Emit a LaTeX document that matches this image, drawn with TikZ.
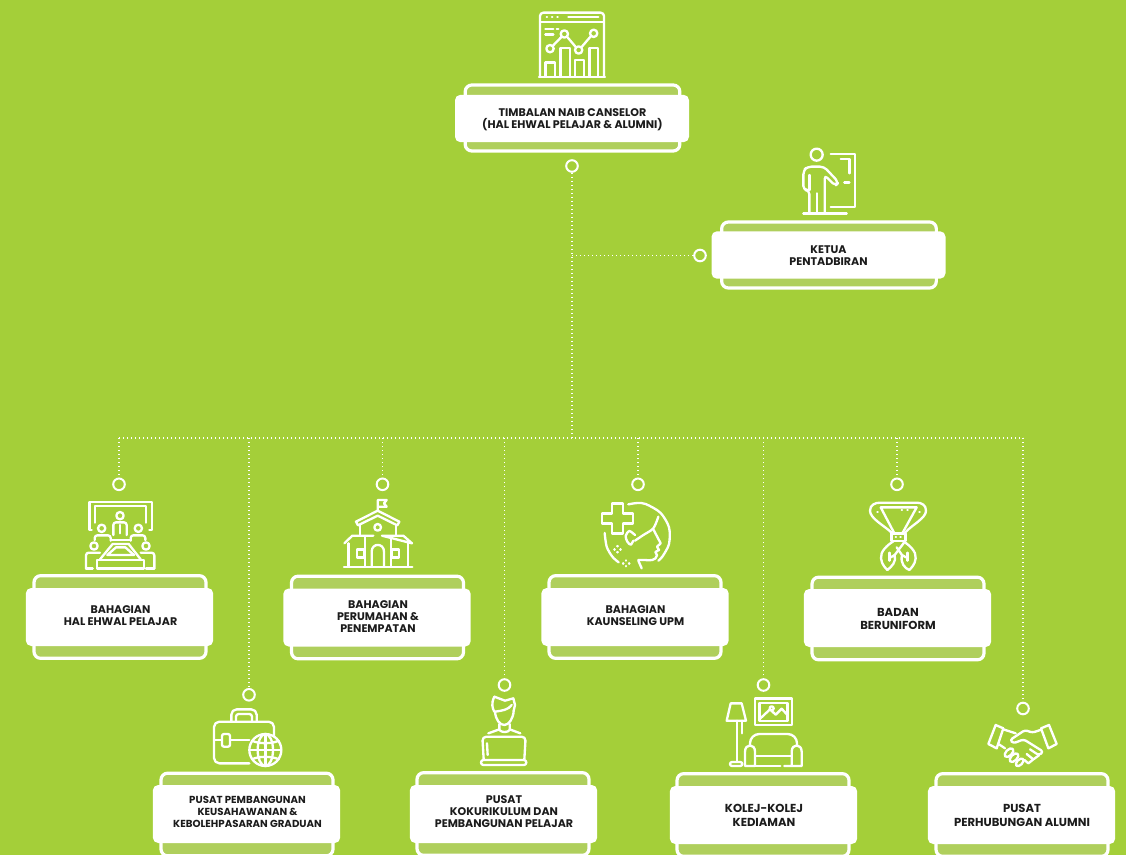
\documentclass[tikz,border=0pt]{standalone}
\usepackage{fontspec}
\setmainfont{Poppins}
\definecolor{bgc}{HTML}{A4CF39}
\definecolor{rimc}{HTML}{AFCF5C}
\definecolor{inkc}{HTML}{1C1C1C}
\tikzset{
  rimbig/.style={draw=white,line width=2.4pt,fill=rimc,rounded corners=5pt,minimum width=161pt,minimum height=49.5pt,inner sep=0pt,outer sep=0pt},
  cardbig/.style={fill=white,rounded corners=4pt,minimum width=175.5pt,minimum height=35.5pt,inner sep=0pt,outer sep=0pt},
  rimrow/.style={draw=white,line width=2.4pt,fill=rimc,rounded corners=5pt,minimum width=129pt,minimum height=62pt,inner sep=0pt,outer sep=0pt},
  cardrow/.style={fill=white,rounded corners=4pt,minimum width=140.5pt,minimum height=43.5pt,inner sep=0pt,outer sep=0pt},
  labeltext/.style={text=inkc,align=center,inner sep=0pt,yshift=-.9pt,font=\bfseries\fontsize{8.3pt}{9pt}\selectfont},
  labelnarrow/.style={text=inkc,align=center,inner sep=0pt,yshift=-.9pt,font=\bfseries\fontsize{7.65pt}{9pt}\selectfont},
  labelwide/.style={text=inkc,align=center,inner sep=0pt,yshift=-.9pt,font=\bfseries\fontsize{8.7pt}{10pt}\selectfont},
  ringnode/.style={circle,draw=white,line width=1.5pt,minimum size=8.7pt,inner sep=0pt},
  dotline/.style={draw=white,line width=1.2pt,dash pattern=on 1.1pt off 1.9pt},
  iconline/.style={draw=white,line width=1.75pt,line cap=round,line join=round,fill=none},
}
\newcommand{\iconat}[3]{\begin{scope}[shift={(#1,#2)},x=.25pt,y=-.25pt]#3\end{scope}}
\begin{document}
\begin{tikzpicture}[x=.75pt,y=-.75pt]
\useasboundingbox (0,0) rectangle (1126,855);
\fill[bgc] (0,0) rectangle (1126,855);

% connectors
\node[ringnode] (r0) at (572,166) {};
\node[ringnode] (rk) at (700,255.5) {};
\node[ringnode] (r1) at (119,484.3) {};
\node[ringnode] (r2) at (249,694.8) {};
\node[ringnode] (r3) at (382.5,484.3) {};
\node[ringnode] (r4) at (504.5,685) {};
\node[ringnode] (r5) at (638,484.3) {};
\node[ringnode] (r6) at (763.5,685) {};
\node[ringnode] (r7) at (897,484.3) {};
\node[ringnode] (r8) at (1023,708.5) {};
\coordinate (jk) at (572,255.5);
\coordinate (jm) at (572,438);
\coordinate (j1) at (119,438);
\coordinate (j2) at (249,438);
\coordinate (j3) at (382.5,438);
\coordinate (j4) at (504.5,438);
\coordinate (j5) at (638,438);
\coordinate (j6) at (763.5,438);
\coordinate (j7) at (897,438);
\coordinate (j8) at (1023,438);
\draw[dotline] (r0) -- (jm);
\draw[dotline] (jk) -- (rk);
\draw[dotline] (j1) -- (j8);
\foreach \n in {1,...,8} {\draw[dotline] (j\n) -- (r\n);}

% boxes
\node[rimbig] (b0rim) at (572.5,118) {};
\node[cardbig] (b0) at (572,118.5) {};
\node[labeltext] (b0text) at (572.5,118.3) {TIMBALAN NAIB CANSELOR\\(HAL EHWAL PELAJAR \& ALUMNI)};
\node[rimbig] (bkrim) at (829,255) {};
\node[cardbig] (bk) at (828.5,255) {};
\node[labeltext] (bktext) at (828.5,254.7) {KETUA\\PENTADBIRAN};

\node[rimrow] (b1rim) at (120,617) {};
\node[cardrow] (b1) at (119.5,617) {};
\node[labeltext] (b1text) at (120.5,614.8) {BAHAGIAN\\HAL EHWAL PELAJAR};
\node[rimrow] (b3rim) at (377.5,617.5) {};
\node[cardrow] (b3) at (377,617.5) {};
\node[labeltext] (b3text) at (378,615.5) {BAHAGIAN\\PERUMAHAN \&\\PENEMPATAN};
\node[rimrow] (b5rim) at (635,617) {};
\node[cardrow] (b5) at (635,617) {};
\node[labeltext] (b5text) at (635.5,614.8) {BAHAGIAN\\KAUNSELING UPM};
\node[rimrow] (b7rim) at (898,618.5) {};
\node[cardrow] (b7) at (897.5,618) {};
\node[labelwide] (b7text) at (898,617.7) {BADAN\\BERUNIFORM};

\node[rimrow] (b2rim) at (247,814.5) {};
\node[cardrow] (b2) at (246.5,814) {};
\node[labelnarrow] (b2text) at (247.5,811) {PUSAT PEMBANGUNAN\\KEUSAHAWANAN \&\\KEBOLEHPASARAN GRADUAN};
\node[rimrow] (b4rim) at (503,814) {};
\node[cardrow] (b4) at (503.5,814) {};
\node[labeltext] (b4text) at (504,810.8) {PUSAT\\KOKURIKULUM DAN\\PEMBANGUNAN PELAJAR};
\node[rimrow] (b6rim) at (763,815) {};
\node[cardrow] (b6) at (763.5,815) {};
\node[labelwide] (b6text) at (764,814.2) {KOLEJ-KOLEJ\\KEDIAMAN};
\node[rimrow] (b8rim) at (1022,815) {};
\node[cardrow] (b8) at (1021.5,815) {};
\node[labelwide] (b8text) at (1022,814.2) {PUSAT\\PERHUBUNGAN ALUMNI};

% icon: dashboard
\iconat{440}{0}{
  \draw[iconline,rounded corners=2.5pt] (300,230) -- (300,38) -- (492,38) -- (492,230);
  \draw[iconline] (297,231) -- (495,231);
  \draw[iconline] (300,66) -- (492,66);
  \draw[iconline] (320,52) -- (321,52) (336,52) -- (337,52) (352,52) -- (353,52) (385,52) -- (475,52);
  \draw[iconline] (316,88) -- (340,88) (350,88) -- (355,88) (316,104) -- (340,104);
  \draw[iconline] (330,146) circle (11) (373,102) circle (11) (416,150) circle (11) (461,100) circle (11);
  \draw[iconline] (338,138) -- (365,110) (381,110) -- (408,142) (424,142) -- (453,108);
  \draw[iconline] (316,230) -- (316,188) -- (345,188) -- (345,230);
  \draw[iconline] (361,230) -- (361,144) -- (390,144) -- (390,230);
  \draw[iconline] (405,230) -- (405,180) -- (432,180) -- (432,230);
  \draw[iconline] (448,230) -- (448,144) -- (474,144) -- (474,230);
}
% icon: person and door
\iconat{690}{140}{
  \draw[iconline] (380,44) circle (18);
  \draw[iconline] (422,42) -- (495,42) -- (495,202) -- (422,202);
  \draw[iconline] (452,58) -- (478,58) -- (478,100);
  \draw[iconline] (463,128) -- (478,128);
  \draw[iconline] (340,221) -- (470,221);
  \draw[iconline,rounded corners=3pt] (358,221) -- (358,150) -- (340,150) -- (340,92) -- (352,80) -- (402,80) -- (446,127) -- (436,138) -- (404,105) -- (404,221);
  \draw[iconline] (380,160) -- (380,221);
  \draw[iconline] (358,105) -- (358,150);
}
% icon: meeting
\iconat{20}{470}{
  \draw[iconline] (215,180) -- (208,180) -- (208,95) -- (395,95) -- (395,180) -- (388,180);
  \draw[iconline] (225,158) -- (225,108) -- (378,108) -- (378,158);
  \draw[iconline] (300,137) circle (11) (245,175) circle (11) (355,175) circle (11) (222,228) circle (11) (378,228) circle (11);
  \draw[iconline,rounded corners=2pt] (280,195) -- (280,157) -- (320,157) -- (320,195);
  \draw[iconline] (300,165) -- (300,190);
  \draw[iconline,rounded corners=2pt] (224,210) -- (224,196) -- (272,196) -- (272,212);
  \draw[iconline,rounded corners=2pt] (376,210) -- (376,196) -- (332,196) -- (332,212);
  \draw[iconline] (272,210) -- (332,210);
  \draw[iconline,rounded corners=2pt] (198,295) -- (198,248) -- (240,248);
  \draw[iconline,rounded corners=2pt] (403,295) -- (403,248) -- (362,248);
  \draw[iconline] (198,295) -- (218,295) (378,295) -- (403,295);
  \draw[iconline] (240,268) -- (278,222) -- (326,222) -- (362,268);
  \draw[iconline] (262,255) -- (288,232) -- (316,232) -- (342,255) -- cycle;
  \draw[iconline] (230,295) -- (230,270) -- (372,270) -- (372,295) -- cycle;
}
% icon: building
\iconat{280}{470}{
  \draw[iconline] (293,122) -- (293,90) -- (320,90) -- (312,100) -- (320,110) -- (293,110);
  \draw[iconline] (234,166) -- (228,155) -- (293,122) -- (358,155) -- (352,166) -- (293,137) -- cycle;
  \draw[iconline] (240,195) -- (240,165) (348,195) -- (348,165);
  \draw[iconline] (293,172) circle (10);
  \draw[iconline] (193,220) -- (217,197) -- (280,197) (306,197) -- (370,197) -- (396,220) -- cycle;
  \draw[iconline] (205,220) -- (205,290) (383,220) -- (383,290) (255,200) -- (255,290) (332,200) -- (332,290);
  \draw[iconline] (275,290) -- (275,245) .. controls (275,218) and (312,218) .. (312,245) -- (312,290);
  \draw[iconline] (230,238) rectangle (252,262) (336,238) rectangle (357,262);
  \draw[iconline] (192,290) -- (397,290);
}
% icon: head and cross
\iconat{540}{470}{
  \draw[iconline] (216,100) -- (248,100) -- (248,130) -- (278,130) -- (278,160) -- (248,160) -- (248,190) -- (216,190) -- (216,160) -- (186,160) -- (186,130) -- (216,130) -- cycle;
  \draw[iconline] plot[smooth] coordinates {(265,103) (292,99) (317,102) (361,128) (387,172) (387,222) (367,260) (355,272)};
  \draw[iconline] plot[smooth] coordinates {(194,189) (200,230) (217,260) (236,277)};
  \draw[iconline] plot[smooth] coordinates {(355,140) (340,175) (310,195) (285,212)};
  \draw[iconline] plot[smooth] coordinates {(285,195) (268,183) (257,198) (262,215) (272,224) (280,212)};
  \draw[iconline] (340,178) -- (362,220) -- (351,230) -- (357,240) -- (346,246) -- (351,256) .. controls (348,272) and (330,272) .. (315,270) -- (295,270);
  \draw[iconline] (295,272) -- (305,295);
  \draw[iconline] (232,228) -- (232,229) (232,246) -- (232,247) (223,238) -- (224,238) (241,238) -- (242,238);
  \draw[iconline] (258,271) -- (258,272) (258,288) -- (258,289) (249,280) -- (250,280) (267,280) -- (268,280);
}
% icon: scarf
\iconat{800}{470}{
  \draw[iconline] (275,188) .. controls (250,165) and (210,145) .. (210,122) .. controls (210,105) and (225,98) .. (240,98) -- (350,98) .. controls (365,98) and (378,105) .. (378,122) .. controls (378,145) and (335,165) .. (315,188);
  \draw[iconline] (242,112) -- (282,188) (350,112) -- (308,188) (242,112) -- (350,112);
  \draw[iconline] (232,125) -- (233,125) (358,125) -- (359,125) (305,120) -- (306,120) (322,120) -- (323,120);
  \draw[iconline] (274,190) rectangle (316,212);
  \draw[iconline] (287,201) -- (288,201) (301,201) -- (302,201);
  \draw[iconline] (280,214) .. controls (262,225) and (240,245) .. (243,265) .. controls (245,285) and (258,295) .. (262,300) .. controls (275,290) and (290,275) .. (284,255) -- (272,262);
  \draw[iconline] (310,214) .. controls (328,225) and (350,245) .. (347,265) .. controls (345,285) and (332,295) .. (328,300) .. controls (315,295) and (300,280) .. (306,255) -- (318,262);
  \draw[iconline] (284,255) -- (315,214) (306,255) -- (290,232);
  \draw[iconline] (268,248) -- (268,272) (322,248) -- (322,272);
}
% icon: briefcase and globe
\iconat{150}{680}{
  \draw[iconline,rounded corners=4pt] (298,250) -- (192,250) -- (192,125) -- (372,125) -- (372,168);
  \draw[iconline,rounded corners=4pt] (244,125) -- (244,88) -- (320,88) -- (320,125);
  \draw[iconline,rounded corners=2pt] (258,125) -- (258,102) -- (306,102) -- (306,125);
  \draw[iconline,rounded corners=1.5pt] (216,162) rectangle (240,200);
  \draw[iconline] (192,180) -- (216,180) (240,180) -- (298,180);
  \draw[iconline] (346,210) circle (48);
  \draw[iconline] (346,210) ellipse [x radius=23,y radius=48];
  \draw[iconline] (346,162) -- (346,258) (298,210) -- (394,210);
  \draw[iconline] (306,182) .. controls (325,192) and (367,192) .. (386,182);
  \draw[iconline] (306,238) .. controls (325,228) and (367,228) .. (386,238);
}
% icon: person with laptop
\iconat{405}{680}{
  \draw[iconline] (268,50) -- (300,62) -- (325,55) -- (330,75) -- (326,92);
  \draw[iconline] (268,50) .. controls (258,70) and (262,85) .. (268,95);
  \draw[iconline] (270,95) .. controls (290,92) and (310,90) .. (320,75);
  \draw[iconline] (270,95) .. controls (272,120) and (285,135) .. (298,135) .. controls (312,135) and (325,115) .. (326,92);
  \draw[iconline] (283,132) -- (283,150) .. controls (290,158) and (308,158) .. (314,150) -- (314,132);
  \draw[iconline] (250,160) -- (283,148) (346,160) -- (314,148);
  \draw[iconline,rounded corners=3pt] (236,238) -- (232,170) -- (362,170) -- (358,238);
  \draw[iconline,rounded corners=1.8pt] (228,240) rectangle (364,255);
  \draw[iconline] (246,190) -- (248,225);
}
% icon: lamp, picture, sofa
\iconat{665}{680}{
  \draw[iconline] (197,70) -- (230,70) -- (243,122) -- (185,122) -- cycle;
  \draw[iconline] (215,122) -- (215,245) (230,122) -- (230,160);
  \draw[iconline,rounded corners=1.5pt] (195,258) -- (195,246) -- (232,246) -- (232,258) -- cycle;
  \draw[iconline] (270,55) rectangle (380,135);
  \draw[iconline] (283,68) rectangle (367,122);
  \draw[iconline] (283,118) -- (315,88) -- (332,104) -- (350,86) -- (367,105);
  \draw[iconline] (320,85) circle (6);
  \draw[iconline,rounded corners=7pt] (255,198) -- (255,162) -- (396,162) -- (396,198);
  \draw[iconline] (270,258) -- (270,215) .. controls (270,190) and (240,190) .. (240,215) -- (240,258) -- (270,258);
  \draw[iconline] (380,258) -- (380,215) .. controls (380,190) and (410,190) .. (410,215) -- (410,258) -- (358,258);
  \draw[iconline] (270,228) -- (380,228) (270,258) -- (346,258);
}
% icon: handshake
\iconat{925}{680}{
  \draw[iconline] (212,135) -- (235,145) -- (215,205) -- (190,192) -- cycle;
  \draw[iconline] (372,135) -- (395,192) -- (370,205) -- (348,145) -- cycle;
  \draw[iconline] (235,148) -- (272,160) (222,193) -- (240,205);
  \draw[iconline,rounded corners=2pt] (346,150) -- (322,158) -- (300,150) -- (255,180) -- (265,190) -- (296,178) -- (355,215) -- (342,226) -- (315,208);
  \draw[iconline] (342,226) -- (325,238) -- (305,222) (325,238) -- (310,250) -- (298,240);
  \draw[iconline,rotate around={45:(252,218)}] (252,218) ellipse [x radius=16,y radius=9];
  \draw[iconline,rotate around={45:(267,233)}] (267,233) ellipse [x radius=16,y radius=9];
  \draw[iconline,rotate around={45:(284,247)}] (284,247) ellipse [x radius=14,y radius=8];
}
\end{tikzpicture}
\end{document}
